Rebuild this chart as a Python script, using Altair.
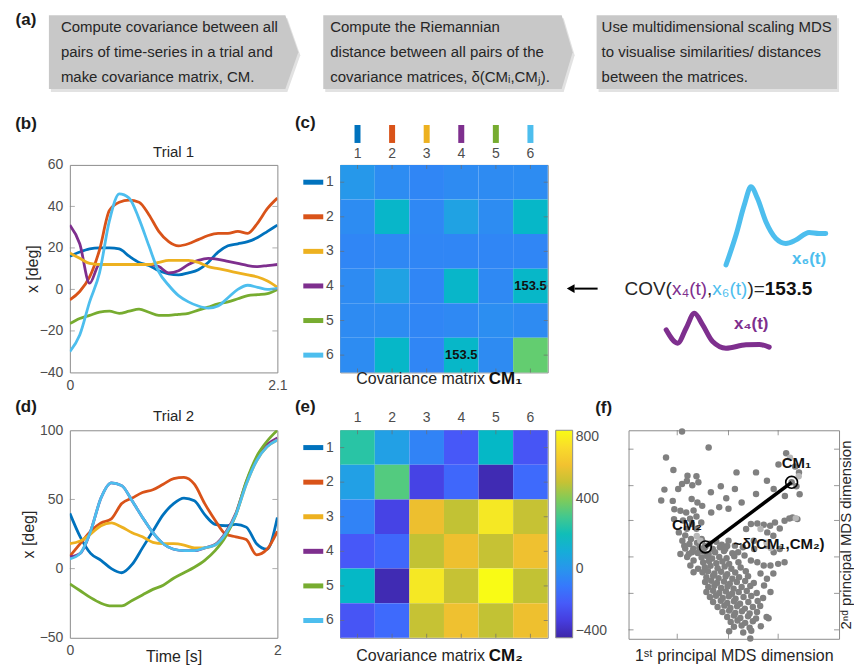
import altair as alt
import pandas as pd

FONT = "Liberation Sans"
INK = "#262626"
LABEL_GRAY = "#4D4D4D"
FRAME = "#8C8C8C"
BOX_GRAY = "#C8C8C8"

SERIES = ["1", "2", "3", "4", "5", "6"]
SERIES_COLORS = ["#0072BD", "#D95319", "#EDB120", "#7E2F8E", "#77AC30", "#4DBEEE"]
DRAW_ORDER = ["1", "2", "4", "3", "5", "6"]

# ---------------- (a) flow chart text
STEP1_LINES = ["Compute covariance between all", "pairs of time-series in a trial and", "make covariance matrix, CM."]
STEP2_LINES = ["Compute the Riemannian", "distance between all pairs of the", "covariance matrices, δ(CMᵢ,CMⱼ)."]
STEP3_LINES = ["Use multidimensional scaling MDS", "to visualise similarities/ distances", "between the matrices."]

# ---------------- (b) Trial 1 time series (deg)
TIME_1 = [0.0, 0.1, 0.2, 0.3, 0.4, 0.5, 0.6, 0.7, 0.8, 0.9, 1.0, 1.1, 1.2, 1.3, 1.4, 1.5, 1.6, 1.7, 1.8, 1.9, 2.0, 2.1]
TRIAL1_X1 = [16, 18, 19.5, 20, 20, 19.5, 16, 13, 11.5, 9, 7.5, 7, 8, 9.5, 13, 18, 21, 22, 23, 25, 28, 31]
TRIAL1_X2 = [-5, -1, 6, 19, 38, 42, 43, 42, 36, 28, 23, 21, 22, 24, 26, 27, 27, 28, 27, 32, 39, 44]
TRIAL1_X3 = [17.5, 15, 12.5, 12, 12, 12, 12, 12, 12, 13, 14, 14, 14, 13, 11, 10, 9, 8, 7, 6, 4, 1]
TRIAL1_X4 = [31, 22, 3, 12, 12, 12, 12, 12, 12, 11, 8, 9, 12, 14, 15, 14.5, 13.5, 12.5, 11.5, 11, 11.5, 12]
TRIAL1_X5 = [-16.5, -14, -12.5, -11, -10.5, -11.5, -10.5, -9.5, -11, -12.5, -12.5, -12, -11.5, -10, -8.5, -7, -6, -4.5, -3, -2.5, -2, 0]
TRIAL1_X6 = [-30, -22, -6, 8, 33, 46, 44, 34, 21, 8.5, 2, -3, -6, -8, -9, -8, -4, 0, 2, 1, 0, 0.5]

# ---------------- (d) Trial 2 time series (deg)
TIME_2 = [0.0, 0.1, 0.2, 0.3, 0.4, 0.5, 0.6, 0.7, 0.8, 0.9, 1.0, 1.1, 1.2, 1.3, 1.4, 1.5, 1.6, 1.7, 1.8, 1.9, 2.0]
TRIAL2_X1 = [40, 23, 11, 6, 0, -3, 3, 15, 27, 39, 47, 51, 49, 39, 32, 31, 32, 30, 18, 14, 37]
TRIAL2_X2 = [9, 18, 27, 33, 36, 47, 51, 55, 57, 61, 65, 66, 61, 47, 35, 25, 23, 21, 10, 14, 27]
TRIAL2_X3 = [18, 20, 25, 31, 33, 30, 26, 23, 19, 18, 18, 17, 15, 15, 17, 25, 39, 61, 78, 88, 93]
TRIAL2_X4 = [8.5, 11, 27, 51, 62, 60, 49, 37, 26, 18, 14, 13, 13, 15, 17.5, 26, 40, 62.5, 79.5, 89.5, 94.5]
TRIAL2_X5 = [-11, -16, -21, -25, -27, -27, -23, -19, -15, -12, -7, -3, 1, 6, 13, 23, 39, 63, 81, 92, 100]
TRIAL2_X6 = [7, 11, 27, 51, 62, 60, 49, 37, 26, 18, 14, 13, 13, 15, 17, 25, 39, 61, 78, 88, 93]

# ---------------- (c) / (e) covariance matrices
CM1 = [
    [10, -35, -55, -40, -40, -35],
    [-35, 150, -50, 50, -35, 155],
    [-55, -50, -55, -55, -55, -55],
    [-40, 50, -55, 150, -45, 153.5],
    [-40, -35, -55, -45, -30, -40],
    [-35, 155, -55, 153.5, -40, 360],
]
CM1_NOTE_ROW = [4, 6]
CM1_NOTE_COL = [6, 4]
CM1_NOTE_TEXT = ["153.5", "153.5"]

CM2 = [
    [250, 40, -65, -210, 160, -220],
    [40, 330, -280, -160, -380, -150],
    [-65, -280, 580, 495, 740, 500],
    [-210, -160, 495, 585, 500, 590],
    [160, -380, 740, 500, 800, 495],
    [-220, -150, 500, 590, 495, 585],
]
CBAR_VALUES = [-400, 0, 400, 800]
CBAR_LIMITS = [-400, 800]
PARULA = ["#3E26A8", "#463CDE", "#4758F8", "#3875FE", "#2B91EF", "#1CA9DF", "#02BAC3",
          "#31C69F", "#64CD6F", "#ABC739", "#E6BB2D", "#FEC934", "#F5E924", "#F9FB15"]
PARULA_POS = [0, 5, 10, 15, 20, 25, 30, 35, 40, 45, 50, 55, 60, 63]
PARULA_DOMAIN = [CBAR_LIMITS[0] + (CBAR_LIMITS[1] - CBAR_LIMITS[0]) * p / 63 for p in PARULA_POS]

# ---------------- (f) MDS embedding (arbitrary MDS units)
MDS_GRAY = [
    (255, 117), (338, 165), (205, 195), (228, 233), (272, 250), (300, 252), (255, 275), (270, 266), (287, 279), (306, 270),
    (200, 292), (243, 290), (190, 325), (226, 326), (285, 320), (345, 300), (376, 282), (425, 240), (486, 240), (520, 265),
    (541, 290), (580, 182), (608, 222), (556, 216), (620, 240), (612, 282), (622, 306), (576, 311), (420, 290), (486, 305),
    (441, 331), (400, 350), (393, 318), (371, 345), (346, 361), (318, 341), (303, 331), (231, 351), (250, 356), (268, 361),
    (291, 355), (230, 381), (258, 385), (280, 380), (300, 373), (315, 391), (286, 396), (270, 410), (300, 410), (245, 421),
    (265, 430), (283, 441), (316, 441), (265, 470), (250, 486), (276, 486), (290, 470), (600, 376), (615, 381), (590, 379),
    (575, 386), (545, 391), (560, 409), (530, 401), (510, 398), (490, 394), (470, 396), (455, 411), (521, 421), (540, 431),
    (479, 446), (521, 461), (541, 481), (560, 471), (575, 511), (555, 516), (531, 521), (510, 521), (490, 511), (470, 506),
    (450, 491), (430, 481), (445, 466), (420, 461), (400, 446), (390, 471), (480, 471), (256, 446), (262, 461), (278, 456),
    (286, 481), (271, 495), (291, 506), (281, 521), (305, 531), (291, 541), (520, 561), (511, 581), (531, 601), (525, 680),
    (540, 545), (500, 545), (597, 270), (328, 465),
    (302, 452), (318, 447), (341, 455), (362, 449), (379, 458),
    (309, 468), (327, 463), (351, 471), (373, 466), (396, 462),
    (304, 483), (322, 479), (338, 486), (358, 481), (386, 477), (412, 484),
    (316, 497), (333, 492), (349, 500), (371, 495), (394, 499), (418, 493),
    (321, 512), (339, 507), (362, 514), (381, 509), (402, 516), (431, 511),
    (326, 526), (344, 522), (366, 529), (388, 524), (409, 531), (438, 527),
    (319, 541), (336, 538), (356, 545), (377, 540), (396, 547), (421, 542), (454, 538),
    (331, 556), (352, 552), (369, 559), (391, 554), (412, 561), (433, 556), (461, 553),
    (327, 571), (346, 567), (364, 574), (386, 569), (404, 576), (426, 571), (452, 568), (479, 574),
    (337, 586), (356, 582), (377, 589), (397, 584), (416, 591), (441, 586), (468, 583),
    (331, 601), (352, 597), (371, 604), (392, 599), (411, 606), (432, 601), (457, 598), (488, 604),
    (342, 616), (361, 612), (382, 619), (401, 614), (422, 621), (447, 616), (471, 613), (508, 619),
    (352, 631), (376, 627), (396, 634), (417, 629), (436, 636), (462, 631), (491, 628),
    (366, 646), (387, 642), (406, 649), (427, 644), (451, 651), (476, 646), (499, 643),
    (381, 661), (402, 657), (421, 664), (442, 659), (466, 666), (489, 661),
    (396, 676), (417, 672), (437, 679), (461, 674), (486, 681), (519, 676),
    (407, 691), (428, 687), (452, 694), (476, 689),
    (417, 706), (441, 702), (466, 709), (501, 704),
    (402, 719), (446, 723), (471, 718), (468, 741),
]
MDS_LIGHT = [(301, 432), (312, 446), (519, 452), (500, 411), (592, 196), (619, 252), (532, 468), (610, 378)]
MDS_DIM1_RANGE = [88, 745]
MDS_DIM2_RANGE = [113, 742]
MDS_DIM1_TICKS = [240, 400, 555]
MDS_DIM2_TICKS = [170, 280, 385, 495, 605, 715]
CM_NAMES = ["CM₁", "CM₂"]
CM_DIM1 = [597, 328]
CM_DIM2 = [270, 465]
CM_LABEL_DIM1 = [612, 270]
CM_LABEL_DIM2 = [212, 400]
DELTA_LABEL = "~δ(CM₁,CM₂)"
DELTA_DIM1 = 415
DELTA_DIM2 = 455

# ---------------- sketch next to (c)
SKETCH_X6_U = [97.7, 107.7, 116, 122.7, 129.3, 137.7, 147.7, 157.7, 167.7, 181, 191, 197.7]
SKETCH_X6_V = [100.3, 70.3, 40.3, 22, 33.7, 57, 73.7, 78.7, 75.3, 67.7, 68.7, 68.7]
SKETCH_X4_U = [37.7, 49.3, 57.7, 66, 74.3, 84.3, 97.7, 117.7, 131, 141]
SKETCH_X4_V = [165.3, 178.7, 163.7, 148.7, 160.3, 177, 183.7, 180.3, 180, 182.7]
COV_PARTS = ["COV(", "x₄(t)", ",", "x₆(t)", ")=", "153.5"]
COV_COLORS = [INK, "#7E2F8E", INK, "#4DBEEE", INK, "#111111"]
COV_BOLD = [False, False, False, False, False, True]

# ---------------- layout
COLW = [208, 63, 208, 81, 219]
ROWH = [74, 76, 208, 58, 208]
NOFRAME = alt.ViewBackground(stroke="transparent")


def spacer(w, h):
    return alt.Chart(pd.DataFrame({"v": [0]})).mark_point(opacity=0).encode(
        x=alt.X("v:Q", axis=None), y=alt.Y("v:Q", axis=None)
    ).properties(width=w, height=h, view=NOFRAME)


def free_text(text, x, y, size=17, weight="bold", color="#1A1A1A", align="center"):
    return alt.Chart(pd.DataFrame({"lab": [text]})).mark_text(
        fontSize=size, fontWeight=weight, color=color, align=align, baseline="middle"
    ).encode(text="lab:N", x=alt.value(x), y=alt.value(y))


def box_chart(lines, width, left, body_right, tip, text_left, label=None):
    H = ROWH[0]
    if tip > body_right:
        xs, tops, bots = [left, body_right, tip], [0, 0, H / 2], [H, H, H / 2]
    else:
        xs, tops, bots = [left, body_right], [0, 0], [H, H]
    shape = pd.DataFrame({"x": xs, "top": tops, "bot": bots})
    shadow = pd.DataFrame({"x": [v + 2 for v in xs], "top": [v + 3 for v in tops], "bot": [v + 3 for v in bots]})
    sx = alt.Scale(domain=[0, width], nice=False, zero=False)
    sy = alt.Scale(domain=[0, H], nice=False, zero=False, reverse=True)
    enc = dict(x=alt.X("x:Q", scale=sx, axis=None), y=alt.Y("top:Q", scale=sy, axis=None), y2="bot:Q")
    sh = alt.Chart(shadow).mark_area(color="#E2E2E2").encode(**enc)
    area = alt.Chart(shape).mark_area(color=BOX_GRAY).encode(**enc)
    txt = pd.DataFrame({"line": lines, "x": [text_left] * len(lines), "y": [12 + 25 * i for i in range(len(lines))]})
    text = alt.Chart(txt).mark_text(align="left", baseline="middle", fontSize=15, color=INK).encode(
        x=alt.X("x:Q", scale=sx, axis=None), y=alt.Y("y:Q", scale=sy, axis=None), text="line:N"
    )
    layers = [sh, area, text]
    if label:
        layers.append(free_text(label, -44, 5))
    return alt.layer(*layers).properties(width=width, height=H, view=NOFRAME)


def line_panel(times, series, ydom, yvals, xvals, title, title_y, label, label_y, xtitle, ytitle_x):
    W, H = 208, 208
    by_name = dict(zip(SERIES, series))
    df = pd.DataFrame([{"t": t, "v": v, "s": name}
                       for name in DRAW_ORDER for t, v in zip(times, by_name[name])])
    xaxis = dict(values=xvals, labelExpr="format(datum.value, '.2~f')", grid=False, domain=False, ticks=False,
                 tickSize=0, labelPadding=6, labelFlush=False, labelFontSize=14, labelColor=LABEL_GRAY)
    xscale = alt.Scale(domain=[xvals[0], xvals[-1]], nice=False, zero=False)
    if xtitle:
        xaxis.update(title=xtitle, titleFontSize=16, titleFontWeight="normal", titleColor=INK,
                     titleY=18.5, titleBaseline="middle")
        x = alt.X("t:Q", scale=xscale, axis=alt.Axis(**xaxis))
    else:
        x = alt.X("t:Q", scale=xscale, axis=alt.Axis(**xaxis), title=None)
    y = alt.Y("v:Q", scale=alt.Scale(domain=ydom, nice=False, zero=False),
              axis=alt.Axis(values=yvals, grid=False, domain=False, ticks=False, tickSize=0, labelPadding=7,
                            labelFontSize=14, labelColor=LABEL_GRAY, title="x [deg]", titleFontSize=16,
                            titleFontWeight="normal", titleColor=INK, titleX=ytitle_x, titleBaseline="middle"))
    lines = alt.Chart(df).mark_line(strokeWidth=2.8, interpolate="monotone", clip=True).encode(
        x=x, y=y, color=alt.Color("s:N", scale=alt.Scale(domain=SERIES, range=SERIES_COLORS), legend=None)
    )
    inner = pd.DataFrame({"v": yvals[1:-1]})
    lt = alt.Chart(inner).mark_tick(orient="horizontal", size=5, thickness=1, color=FRAME, xOffset=2.5).encode(
        y="v:Q", x=alt.value(0))
    rt = alt.Chart(inner).mark_tick(orient="horizontal", size=5, thickness=1, color=FRAME, xOffset=-2.5).encode(
        y="v:Q", x=alt.value(W))
    ttl = free_text(title, W / 2, title_y, size=15, weight="normal", color=INK)
    return alt.layer(lines, lt, rt, ttl, free_text(label, -44, label_y)).properties(width=W, height=H)


def heatmap_panel(matrix, label, label_y, xlabel_pad, title_sub, title_y, top_bars, notes, legend):
    W, H = 208, 208
    cells = pd.DataFrame([{"row": i + 1, "col": j + 1, "cov": v}
                          for i, r in enumerate(matrix) for j, v in enumerate(r)])
    band = alt.Scale(paddingInner=0, paddingOuter=0)
    x = alt.X("col:O", scale=band, title=None,
              axis=alt.Axis(orient="top", labelAngle=0, ticks=False, tickSize=0, domain=False,
                            labelPadding=xlabel_pad, labelFontSize=14, labelColor=LABEL_GRAY))
    y = alt.Y("row:O", scale=band, title=None,
              axis=alt.Axis(ticks=False, tickSize=0, domain=False, labelPadding=7,
                            labelFontSize=14, labelColor=LABEL_GRAY))
    color = alt.Color("cov:Q", scale=alt.Scale(domain=PARULA_DOMAIN, range=PARULA, interpolate="rgb"),
                      title=None, legend=legend)
    layers = [alt.Chart(cells).mark_rect().encode(x=x, y=y, color=color)]
    if notes:
        nd = pd.DataFrame({"row": notes[0], "col": notes[1], "txt": notes[2]})
        layers.append(alt.Chart(nd).mark_text(fontSize=13, fontWeight="bold", color="#111111").encode(
            x="col:O", y="row:O", text="txt:N"))
    stroke = alt.Stroke("s:N", scale=alt.Scale(domain=SERIES, range=SERIES_COLORS), legend=None)
    idx = pd.DataFrame({"col": [1, 2, 3, 4, 5, 6], "row": [1, 2, 3, 4, 5, 6], "s": SERIES})
    if top_bars:
        layers.append(alt.Chart(idx).mark_rule(strokeWidth=6, strokeCap="butt").encode(
            x="col:O", y=alt.value(-40), y2=alt.value(-22), stroke=stroke))
    layers.append(alt.Chart(idx).mark_rule(strokeWidth=5, strokeCap="butt").encode(
        y="row:O", x=alt.value(-37), x2=alt.value(-17), stroke=stroke))
    tk = dict(thickness=1, color="#6E6E6E", size=4)
    layers.append(alt.Chart(idx).mark_tick(orient="vertical", yOffset=2, **tk).encode(x="col:O", y=alt.value(0)))
    layers.append(alt.Chart(idx).mark_tick(orient="vertical", yOffset=-2, **tk).encode(x="col:O", y=alt.value(H)))
    layers.append(alt.Chart(idx).mark_tick(orient="horizontal", xOffset=2, **tk).encode(y="row:O", x=alt.value(0)))
    layers.append(alt.Chart(idx).mark_tick(orient="horizontal", xOffset=-2, **tk).encode(y="row:O", x=alt.value(W)))
    layers.append(free_text("Covariance matrix", 145, title_y, size=16, weight="normal", color=INK, align="right"))
    layers.append(free_text(title_sub, 149, title_y, size=17, weight="bold", color="#111111", align="left"))
    layers.append(free_text(label, -35, label_y))
    return alt.layer(*layers).properties(width=W, height=H)


def sketch_panel():
    W, H = COLW[4], 208
    sx = alt.Scale(domain=[0, W], nice=False, zero=False)
    sy = alt.Scale(domain=[0, H], nice=False, zero=False, reverse=True)
    X = lambda f: alt.X(f, scale=sx, axis=None)
    Y = lambda f: alt.Y(f, scale=sy, axis=None)
    c6 = alt.Chart(pd.DataFrame({"u": SKETCH_X6_U, "w": SKETCH_X6_V})).mark_line(
        color="#4DBEEE", strokeWidth=5, strokeCap="round", strokeJoin="round", interpolate="monotone"
    ).encode(x=X("u:Q"), y=Y("w:Q"))
    c4 = alt.Chart(pd.DataFrame({"u": SKETCH_X4_U, "w": SKETCH_X4_V})).mark_line(
        color="#7E2F8E", strokeWidth=5, strokeCap="round", strokeJoin="round", interpolate="monotone"
    ).encode(x=X("u:Q"), y=Y("w:Q"))
    names = pd.DataFrame({"t": ["x₆(t)", "x₄(t)"], "u": [181, 123], "w": [94, 159], "c": ["#4DBEEE", "#7E2F8E"]})
    nm = alt.Chart(names).mark_text(fontSize=17, fontWeight="bold", align="center", baseline="middle").encode(
        x=X("u:Q"), y=Y("w:Q"), text="t:N", color=alt.Color("c:N", scale=None))
    starts = [-4, 43.5, 78.7, 84, 119.2, 136.6]
    cov = pd.DataFrame({"t": COV_PARTS, "u": starts, "w": [124] * 6, "c": COV_COLORS, "b": COV_BOLD})
    cov_n = alt.Chart(cov[~cov["b"]]).mark_text(fontSize=19, align="left", baseline="middle").encode(
        x=X("u:Q"), y=Y("w:Q"), text="t:N", color=alt.Color("c:N", scale=None))
    cov_b = alt.Chart(cov[cov["b"]]).mark_text(fontSize=19, fontWeight="bold", align="left", baseline="middle").encode(
        x=X("u:Q"), y=Y("w:Q"), text="t:N", color=alt.Color("c:N", scale=None))
    arrow = alt.Chart(pd.DataFrame({"a": [-31], "b": [-54], "w": [124]})).mark_rule(
        color="black", strokeWidth=2).encode(x=X("a:Q"), x2="b:Q", y=Y("w:Q"))
    head = alt.Chart(pd.DataFrame({"a": [-58], "w": [124]})).mark_point(
        shape="triangle-left", filled=True, size=80, color="black", opacity=1).encode(x=X("a:Q"), y=Y("w:Q"))
    return alt.layer(c6, c4, nm, cov_n, cov_b, arrow, head).properties(width=W, height=H, view=NOFRAME)


def mds_panel():
    W, H = 211, 209
    sx = alt.Scale(domain=MDS_DIM1_RANGE, nice=False, zero=False)
    sy = alt.Scale(domain=MDS_DIM2_RANGE, nice=False, zero=False, reverse=True)
    x = alt.X("d1:Q", scale=sx, axis=alt.Axis(labels=False, ticks=False, domain=False, grid=False,
                                              title="1ˢᵗ principal MDS dimension", titleFontSize=16,
                                              titleFontWeight="normal", titleColor=INK, titleY=16.5,
                                              titleBaseline="middle"))
    y = alt.Y("d2:Q", scale=sy, axis=alt.Axis(orient="right", labels=False, ticks=False, domain=False, grid=False,
                                              title="2ⁿᵈ principal MDS dimension", titleFontSize=15,
                                              titleFontWeight="normal", titleColor=INK, titleAngle=270,
                                              titleX=6.5, titleBaseline="middle"))
    gray = pd.DataFrame(MDS_GRAY, columns=["d1", "d2"])
    light = pd.DataFrame(MDS_LIGHT, columns=["d1", "d2"])
    p1 = alt.Chart(gray).mark_circle(size=42, color="#808080", opacity=1).encode(x=x, y=y)
    p2 = alt.Chart(light).mark_circle(size=42, color="#B8B8B8", opacity=1).encode(x="d1:Q", y="d2:Q")
    cms = pd.DataFrame({"name": CM_NAMES, "d1": CM_DIM1, "d2": CM_DIM2})
    link = alt.Chart(cms).mark_line(color="black", strokeWidth=3.5).encode(x="d1:Q", y="d2:Q")
    rings = alt.Chart(cms).mark_point(shape="circle", filled=False, size=140, color="black",
                                      strokeWidth=1.6, opacity=1).encode(x="d1:Q", y="d2:Q")
    labs = pd.DataFrame({"name": CM_NAMES, "d1": CM_LABEL_DIM1, "d2": CM_LABEL_DIM2})
    lab = alt.Chart(labs).mark_text(fontSize=15, fontWeight="bold", color="#111111").encode(
        x="d1:Q", y="d2:Q", text="name:N")
    dl = alt.Chart(pd.DataFrame({"name": [DELTA_LABEL], "d1": [DELTA_DIM1], "d2": [DELTA_DIM2]})).mark_text(
        fontSize=15, fontWeight="bold", color="#111111", align="left", baseline="middle").encode(
        x="d1:Q", y="d2:Q", text="name:N")
    tk = dict(thickness=1, color="#6E6E6E", size=5)
    yt = pd.DataFrame({"d2": MDS_DIM2_TICKS})
    xt = pd.DataFrame({"d1": MDS_DIM1_TICKS})
    t1 = alt.Chart(yt).mark_tick(orient="horizontal", xOffset=2.5, **tk).encode(y="d2:Q", x=alt.value(0))
    t2 = alt.Chart(yt).mark_tick(orient="horizontal", xOffset=-2.5, **tk).encode(y="d2:Q", x=alt.value(W))
    t3 = alt.Chart(xt).mark_tick(orient="vertical", yOffset=-2.5, **tk).encode(x="d1:Q", y=alt.value(H))
    t4 = alt.Chart(xt).mark_tick(orient="vertical", yOffset=2.5, **tk).encode(x="d1:Q", y=alt.value(0))
    return alt.layer(p1, p2, link, rings, lab, dl, t1, t2, t3, t4, free_text("(f)", -25, -22)).properties(
        width=W, height=H)


trial1 = line_panel(TIME_1, [TRIAL1_X1, TRIAL1_X2, TRIAL1_X3, TRIAL1_X4, TRIAL1_X5, TRIAL1_X6],
                    [-40, 60], [-40, -20, 0, 20, 40, 60], [0, 2.1], "Trial 1", -13, "(b)", -41, None, -37)
trial2 = line_panel(TIME_2, [TRIAL2_X1, TRIAL2_X2, TRIAL2_X3, TRIAL2_X4, TRIAL2_X5, TRIAL2_X6],
                    [-50, 100], [-50, 0, 50, 100], [0, 2], "Trial 2", -14, "(d)", -23, "Time [s]", -41)

cm1 = heatmap_panel(CM1, "(c)", -42, 4, "CM₁", 215, True, (CM1_NOTE_ROW, CM1_NOTE_COL, CM1_NOTE_TEXT), None)
cbar = alt.Legend(orient="right", direction="vertical", gradientLength=208, gradientThickness=17, offset=8,
                  padding=0, values=CBAR_VALUES, labelFontSize=14, labelColor=LABEL_GRAY, labelOffset=3,
                  labelOverlap=False, labelBaseline="middle", gradientStrokeColor=FRAME, gradientStrokeWidth=1)
cm2 = heatmap_panel(CM2, "(e)", -23, 6, "CM₂", 226, False, None, cbar)

box1 = box_chart(STEP1_LINES, COLW[0], -21, 216, 229, -9, "(a)")
box2 = box_chart(STEP2_LINES, COLW[2], -17, 222, 233, -10)
box3 = box_chart(STEP3_LINES, COLW[4], -32, 209, 209, -27)

grid = [
    [box1, spacer(COLW[1], ROWH[0]), box2, spacer(COLW[3], ROWH[0]), box3],
    [spacer(w, ROWH[1]) for w in COLW],
    [trial1, spacer(COLW[1], ROWH[2]), cm1, spacer(COLW[3], ROWH[2]), sketch_panel()],
    [spacer(w, ROWH[3]) for w in COLW],
    [trial2, spacer(COLW[1], ROWH[4]), cm2, spacer(COLW[3], ROWH[4]), mds_panel()],
]
cells = [c for row in grid for c in row]

chart = alt.concat(*cells, columns=5, spacing=0, bounds="flush").properties(
    padding={"left": 6, "top": 1.5, "right": 0, "bottom": 0}
).configure(font=FONT).configure_view(stroke=FRAME, strokeWidth=1)

chart.save("out.html", embed_options={"renderer": "svg", "actions": False})
